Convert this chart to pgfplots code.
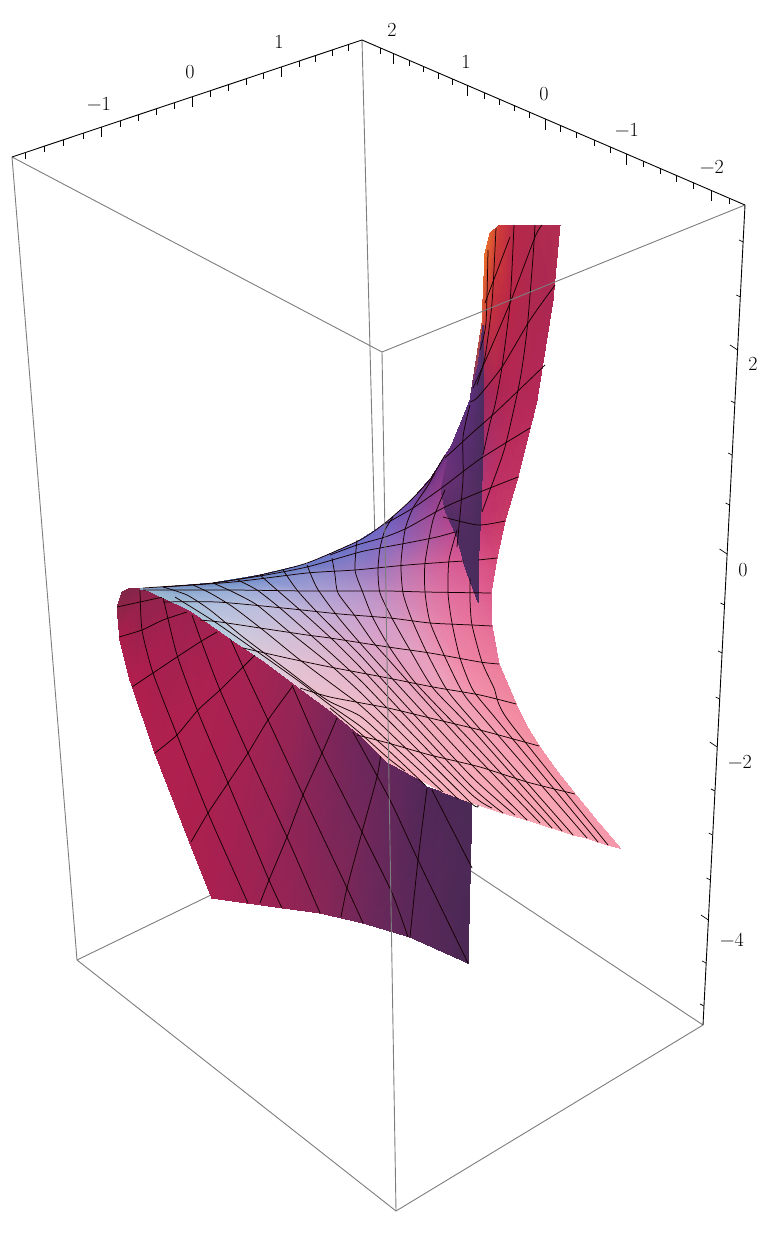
\documentclass[border=0pt]{standalone}
\usepackage{pgfplots}
\pgfplotsset{compat=1.18}
\definecolor{boxgray}{RGB}{125,125,125}
\pgfplotsset{
 box/.style={boxgray,line width=0.9pt,no markers},
 edge/.style={black,line width=0.9pt,no markers},
 tk/.style={black,line width=0.7pt,no markers},
 ml/.style={black!92!red,line width=0.75pt,no markers,smooth,tension=0.4},
 fillsurf/.style={surf,shader=interp,mesh/color input=explicit},
}
\newcommand{\lab}[3]{\node[font=\fontsize{20}{20}\selectfont,inner sep=0pt] at (axis cs:#1,#2) {#3};}
\begin{document}
\begin{tikzpicture}
\useasboundingbox (0,0) rectangle (782pt,1236pt);
\begin{axis}[at={(0,0)},anchor=south west,scale only axis,width=782pt,height=1236pt,
 xmin=0,xmax=782,ymin=0,ymax=1236,y dir=reverse,hide axis,clip=false,unbounded coords=jump]

% back edges
\addplot[box] coordinates {(362,40)(382,812)};
\addplot[box] coordinates {(77,960)(382,812)};
\addplot[box] coordinates {(703,1025)(382,812)};
% outer edges
\addplot[box] coordinates {(12,157)(77,960)};
\addplot[box] coordinates {(77,960)(396,1211)};
\addplot[box] coordinates {(396,1211)(703,1025)};

% lower sheet
\addplot[fillsurf,mesh/cols=2] table[meta=c] {
x y c
122 592 rgb255=130,38,72
117 607 rgb255=140,38,72
130 588 rgb255=128,38,72
120 640 rgb255=172,30,76
147 589 rgb255=140,36,76
130 680 rgb255=176,30,78
190 610 rgb255=158,34,80
155 753 rgb255=176,32,78
233 640 rgb255=168,34,82
190 843 rgb255=172,32,78
267 663 rgb255=160,36,84
212 898 rgb255=168,32,80
300 688 rgb255=146,38,86
247 903 rgb255=160,34,82
333 713 rgb255=124,38,90
283 908 rgb255=150,36,84
373 747 rgb255=104,40,92
320 913 rgb255=136,38,86
407 770 rgb255=92,40,92
363 923 rgb255=112,40,90
427 787 rgb255=80,40,88
410 937 rgb255=92,40,90
472 803 rgb255=74,42,86
468 963 rgb255=74,40,84
};
% lower sheet mesh
\addplot[ml] coordinates {(140,590)(142,630)(153,673)(177,735)(208,813)(248,903)};
\addplot[ml] coordinates {(163,597)(177,655)(198,712)(228,783)(269,880)(282,908)};
\addplot[ml] coordinates {(192,615)(202,643)(220,690)(248,753)(287,837)(320,913)};
\addplot[ml] coordinates {(230,638)(243,667)(268,720)(303,795)(347,888)(363,923)};
\addplot[ml] coordinates {(292,685)(322,753)(362,832)(392,893)(408,937)};
\addplot[ml] coordinates {(353,732)(390,800)(418,860)(468,963)};
\addplot[ml] coordinates {(432,790)(472,868)};
\addplot[ml] coordinates {(117,607)(140,602)(163,597)};
\addplot[ml] coordinates {(119,637)(142,630)(163,620)(187,612)};
\addplot[ml] coordinates {(132,687)(153,673)(177,657)(200,642)(217,632)};
\addplot[ml] coordinates {(155,753)(177,735)(198,710)(220,690)(243,667)(255,655)};
\addplot[ml] coordinates {(191,842)(208,813)(228,783)(248,753)(268,720)(292,687)};
\addplot[ml] coordinates {(260,903)(269,880)(287,837)(303,795)(322,753)(337,718)};
\addplot[ml] coordinates {(341,917)(347,888)(362,832)(377,777)(381,753)};
\addplot[ml] coordinates {(410,937)(418,860)(427,788)};

% main sheet, right part
\addplot[fillsurf,mesh/cols=18] table[meta=c] {
x y c
560 225 rgb255=176,44,80
553 300 rgb255=172,40,82
537 400 rgb255=180,40,88
533 417 rgb255=183,42,90
530 428 rgb255=186,44,92
518 477 rgb255=192,50,98
505 521 rgb255=200,58,104
497 558 rgb255=212,74,120
491 593 rgb255=222,92,140
492 626 rgb255=228,108,150
499 664 rgb255=236,124,156
516 704 rgb255=240,136,160
526 725 rgb255=242,141,162
539 746 rgb255=244,146,164
556 770 rgb255=245,149,167
575 794 rgb255=245,152,170
597 821 rgb255=245,152,171
620 848 rgb255=245,152,172
535 225 rgb255=176,42,78
528 320 rgb255=176,40,78
517 400 rgb255=178,40,86
513 420 rgb255=181,42,89
507 441 rgb255=184,44,92
495 480 rgb255=190,48,100
483 522 rgb255=196,54,110
473 560 rgb255=216,84,140
470 593 rgb255=224,104,152
472 625 rgb255=232,116,156
482 662 rgb255=236,128,160
498 697 rgb255=240,140,165
510 722 rgb255=242,145,167
524 740 rgb255=244,150,170
545 767 rgb255=245,153,171
566 792 rgb255=246,156,172
587 819 rgb255=246,156,173
608 845 rgb255=246,156,174
514 225 rgb255=184,40,72
510 303 rgb255=184,38,72
498 390 rgb255=174,38,84
492 423 rgb255=172,44,97
485 455 rgb255=170,50,110
472 495 rgb255=178,60,125
459 528 rgb255=186,70,140
449 560 rgb255=212,92,150
448 593 rgb255=224,112,160
452 623 rgb255=232,124,164
460 658 rgb255=238,134,168
473 690 rgb255=242,146,172
490 712 rgb255=244,150,173
509 735 rgb255=245,154,174
530 760 rgb255=246,157,175
551 785 rgb255=247,160,176
575 814 rgb255=247,160,176
598 842 rgb255=247,160,176
500 225 rgb255=206,60,56
492 303 rgb255=196,50,62
475 395 rgb255=150,40,96
462 440 rgb255=150,50,125
446 485 rgb255=150,60,135
437 512 rgb255=160,72,148
429 538 rgb255=172,90,160
425 563 rgb255=200,104,164
425 592 rgb255=216,124,172
430 622 rgb255=228,136,176
445 657 rgb255=236,146,178
463 693 rgb255=240,154,180
478 712 rgb255=242,158,180
496 733 rgb255=244,160,180
516 757 rgb255=246,162,180
537 780 rgb255=247,164,180
562 810 rgb255=247,164,180
587 838 rgb255=248,164,178
490 233 rgb255=226,96,46
484 320 rgb255=208,70,60
473 400 rgb255=110,44,110
455 445 rgb255=118,50,130
432 485 rgb255=128,60,140
416 515 rgb255=140,80,160
405 543 rgb255=150,100,180
401 565 rgb255=180,116,178
403 592 rgb255=204,132,184
412 620 rgb255=220,146,186
427 653 rgb255=232,156,188
447 690 rgb255=238,162,186
463 710 rgb255=241,164,184
480 729 rgb255=244,164,182
500 752 rgb255=245,165,182
522 777 rgb255=246,166,180
547 805 rgb255=247,165,178
573 835 rgb255=248,164,176
485 253 rgb255=232,108,44
482 323 rgb255=214,84,56
470 400 rgb255=90,44,110
452 445 rgb255=100,44,120
431 478 rgb255=110,50,130
410 502 rgb255=110,76,168
385 524 rgb255=112,100,196
378 570 rgb255=158,120,190
380 592 rgb255=190,140,196
393 620 rgb255=212,154,196
410 650 rgb255=226,160,196
433 688 rgb255=236,160,186
450 707 rgb255=239,162,184
468 725 rgb255=242,164,182
488 748 rgb255=244,165,181
510 772 rgb255=246,166,180
535 801 rgb255=247,163,178
562 831 rgb255=247,160,176
};
% main sheet, left part
\addplot[fillsurf,mesh/cols=9] table[meta=c] {
x y c
385 524 rgb255=112,100,196
378 570 rgb255=158,120,190
380 592 rgb255=190,140,196
393 620 rgb255=212,154,196
410 650 rgb255=226,160,196
433 688 rgb255=236,160,186
468 725 rgb255=242,164,182
510 772 rgb255=246,166,180
562 831 rgb255=247,160,176
357 542 rgb255=106,112,200
355 570 rgb255=150,128,196
363 593 rgb255=182,150,204
373 618 rgb255=206,158,204
390 648 rgb255=222,160,198
413 680 rgb255=232,160,186
450 720 rgb255=240,164,184
497 771 rgb255=246,168,182
552 828 rgb255=248,164,178
307 564 rgb255=104,122,200
312 574 rgb255=140,144,206
320 592 rgb255=172,160,212
340 616 rgb255=198,170,210
358 642 rgb255=216,170,204
391 678 rgb255=228,170,198
428 717 rgb255=240,170,188
472 765 rgb255=246,170,184
527 820 rgb255=248,168,182
260 575 rgb255=104,132,196
265 582 rgb255=130,150,208
277 590 rgb255=164,170,216
298 608 rgb255=190,180,218
325 633 rgb255=212,180,212
365 672 rgb255=228,176,200
400 711 rgb255=238,176,194
445 759 rgb255=245,174,188
503 813 rgb255=248,170,184
213 583 rgb255=108,136,192
222 587 rgb255=128,158,206
233 592 rgb255=156,176,216
255 604 rgb255=184,190,222
285 630 rgb255=206,192,218
330 665 rgb255=226,186,208
373 705 rgb255=236,184,200
419 751 rgb255=245,180,192
478 805 rgb255=248,176,188
163 587 rgb255=120,144,190
172 590 rgb255=130,160,200
187 596 rgb255=150,176,212
205 607 rgb255=176,192,222
232 627 rgb255=200,202,222
268 655 rgb255=222,198,216
318 693 rgb255=234,192,206
390 743 rgb255=244,184,196
443 792 rgb255=248,178,190
140 589 rgb255=136,160,196
147 590 rgb255=150,180,206
190 610 rgb255=166,196,216
233 640 rgb255=186,206,222
267 663 rgb255=214,208,222
300 688 rgb255=230,200,216
330 710 rgb255=240,192,206
363 737 rgb255=246,186,198
388 762 rgb255=248,180,192
};
% dark fold
\addplot[fillsurf,mesh/cols=2] table[meta=c] {
x y c
483 325 rgb255=90,46,110
483 325 rgb255=84,44,100
478 365 rgb255=92,48,120
483 370 rgb255=78,44,96
470 400 rgb255=92,48,124
483 410 rgb255=76,44,96
460 425 rgb255=96,48,124
483 450 rgb255=76,44,94
451 447 rgb255=100,48,124
482 480 rgb255=76,44,94
445 470 rgb255=108,50,122
481 510 rgb255=74,44,92
441 490 rgb255=104,48,114
480 530 rgb255=74,44,92
445 510 rgb255=88,46,104
479 550 rgb255=74,44,92
457 537 rgb255=80,44,98
478 570 rgb255=74,44,92
465 567 rgb255=76,44,96
478 585 rgb255=74,44,92
478 602 rgb255=74,44,92
478 602 rgb255=74,44,92
};
% main sheet mesh: rows
\addplot[ml] coordinates {(357,735)(388,743)(430,755)(480,767)(527,782)(575,794)};
\addplot[ml] coordinates {(300,688)(330,697)(388,708)(430,718)(480,730)(539,746)};
\addplot[ml] coordinates {(243,648)(287,658)(330,667)(388,678)(433,687)(480,695)(516,704)};
\addplot[ml] coordinates {(200,620)(220,622)(260,628)(307,635)(330,638)(388,647)(430,653)(480,662)(499,664)};
\addplot[ml] coordinates {(163,602)(217,602)(283,608)(340,614)(390,618)(430,623)(472,625)(492,626)};
\addplot[ml] coordinates {(143,590)(233,590)(307,591)(387,591)(425,592)(491,593)};
\addplot[ml] coordinates {(163,587)(233,582)(307,573)(355,570)(407,565)(448,562)(464,561)};
\addplot[ml] coordinates {(478,560)(497,558)};
\addplot[ml] coordinates {(213,583)(260,576)(307,567)(360,552)(380,548)(407,543)(437,537)(455,532)};
\addplot[ml] coordinates {(443,517)(478,525)(505,521)};
\addplot[ml] coordinates {(330,555)(357,545)(385,537)(407,528)(445,507)(480,492)(518,477)};
\addplot[ml] coordinates {(385,524)(413,508)(443,487)(480,459)(530,428)};
\addplot[ml] coordinates {(445,458)(470,435)(498,410)(545,365)};
\addplot[ml] coordinates {(470,402)(478,397)(502,367)(530,320)(555,285)};
\addplot[ml] coordinates {(542,225)(535,237)(510,303)(487,357)(473,388)};
\addplot[ml] coordinates {(510,237)(485,303)};
% silhouette
\addplot[ml] coordinates {(143,588)(213,583)(260,575)(307,563)(360,540)(385,523)(410,501)(431,478)(445,455)};
% main sheet mesh: columns
\addplot[ml] coordinates {(535,225)(533,257)(527,330)(520,380)(505,447)(490,490)(482,512)};
\addplot[ml] coordinates {(470,578)(470,600)(472,625)(482,662)(494,688)(508,720)(608,845)};
\addplot[ml] coordinates {(514,225)(510,303)(502,367)(495,405)(490,423)(483,455)};
\addplot[ml] coordinates {(457,530)(449,560)(448,593)(452,623)(460,658)(473,690)(497,720)(598,842)};
\addplot[ml] coordinates {(496,228)(492,303)(485,357)(477,385)};
\addplot[ml] coordinates {(470,405)(463,437)(463,480)(457,547)};
\addplot[ml] coordinates {(445,490)(433,520)(425,563)(425,592)(430,622)(445,657)(463,693)(485,720)(587,838)};
\addplot[ml] coordinates {(488,250)(486,323)(480,350)};
\addplot[ml] coordinates {(435,473)(427,487)(413,508)(405,530)(401,563)(403,593)(412,620)(427,653)(447,690)(472,720)(573,835)};
\addplot[ml] coordinates {(393,517)(385,530)(380,548)(378,570)(380,593)(393,620)(410,650)(433,688)(470,727)(562,831)};
\addplot[ml] coordinates {(357,540)(355,570)(363,593)(373,618)(390,648)(413,680)(440,709)(470,740)(552,828)};
\addplot[ml] coordinates {(332,558)(335,575)(338,593)(355,616)(373,642)(388,659)(420,695)(470,750)(540,823)};
\addplot[ml] coordinates {(307,565)(317,588)(338,617)(360,643)(388,674)(470,763)(527,820)};
\addplot[ml] coordinates {(283,570)(297,590)(317,612)(360,655)(388,686)(470,775)(515,815)};
\addplot[ml] coordinates {(260,575)(277,590)(300,610)(333,640)(360,667)(388,697)(470,785)(503,813)};
\addplot[ml] coordinates {(238,580)(257,590)(280,608)(313,637)(360,680)(388,709)(470,793)(492,808)};
\addplot[ml] coordinates {(213,583)(233,592)(257,605)(287,630)(327,662)(360,692)(388,720)(470,802)(478,805)};
\addplot[ml] coordinates {(193,585)(210,593)(233,607)(263,630)(300,660)(340,690)(360,705)(388,731)(458,799)};
\addplot[ml] coordinates {(163,587)(187,595)(210,610)(243,637)(287,670)(327,700)(360,716)(388,741)(443,792)};
\addplot[ml] coordinates {(175,597)(215,622)(255,650)(300,682)(330,705)(360,726)(388,750)(425,785)};
\addplot[ml] coordinates {(330,708)(360,733)(388,758)(405,771)};

% front edges
\addplot[box] coordinates {(12,157)(382,352)};
\addplot[box] coordinates {(382,352)(745,205)};
\addplot[box] coordinates {(382,352)(396,1211)};

% ticked edges
\addplot[edge] coordinates {(12,157)(362,40)};
\addplot[edge] coordinates {(362,40)(745,205)};
\addplot[edge] coordinates {(745,205)(703,1025)};
% ticks, left top edge
\addplot[tk] coordinates {(25,152.7)(25,158.7) (0,nan) (44,146.3)(44,152.3) (0,nan) (63,140)(63,146) (0,nan) (83,133.3)(83,139.3) (0,nan) (101.7,127)(101.7,137) (0,nan) (120,120.9)(120,126.9) (0,nan) (138,114.9)(138,120.9) (0,nan) (156,108.9)(156,114.9) (0,nan) (174,102.8)(174,108.8) (0,nan) (192,96.8)(192,106.8) (0,nan) (210,90.8)(210,96.8) (0,nan) (228,84.8)(228,90.8) (0,nan) (246,78.8)(246,84.8) (0,nan) (263,73.1)(263,79.1) (0,nan) (281,67.1)(281,77.1) (0,nan) (299,61)(299,67) (0,nan) (315,55.7)(315,61.7) (0,nan) (332,50)(332,56) (0,nan) (348,44.7)(348,50.7)};
% ticks, right top edge
\addplot[tk] coordinates {(380,47.8)(380,53.8) (0,nan) (393.3,53.5)(393.3,64.5) (0,nan) (409,60.2)(409,66.2) (0,nan) (423.3,66.4)(423.3,72.4) (0,nan) (438.3,72.9)(438.3,78.9) (0,nan) (452.7,79.1)(452.7,85.1) (0,nan) (467.3,85.4)(467.3,96.4) (0,nan) (484,92.6)(484,98.6) (0,nan) (499.3,99.2)(499.3,105.2) (0,nan) (514,105.5)(514,111.5) (0,nan) (529.3,112.1)(529.3,118.1) (0,nan) (545.3,119)(545.3,130) (0,nan) (560.7,125.6)(560.7,131.6) (0,nan) (576.7,132.5)(576.7,138.5) (0,nan) (594,140)(594,146) (0,nan) (610,146.8)(610,152.8) (0,nan) (626.7,154)(626.7,165) (0,nan) (643.3,161.2)(643.3,167.2) (0,nan) (660,168.4)(660,174.4) (0,nan) (676.7,175.6)(676.7,181.6) (0,nan) (693.3,182.7)(693.3,188.7) (0,nan) (711,190.4)(711,201.4) (0,nan) (729,198.1)(729,204.1)};
% ticks, vertical edge
\addplot[tk] coordinates {(743.1,242)(739.1,240) (0,nan) (740.3,297)(736.3,295) (0,nan) (737.6,350)(730.1,345) (0,nan) (734.9,403)(730.9,401) (0,nan) (732.2,455)(728.2,453) (0,nan) (729.6,505)(725.6,503) (0,nan) (727.1,554)(719.6,549) (0,nan) (724.5,605)(720.5,603) (0,nan) (722.1,653)(718.1,651) (0,nan) (719.7,699)(715.7,697) (0,nan) (717.2,747)(709.7,742) (0,nan) (715,791)(711,789) (0,nan) (712.7,835)(708.7,833) (0,nan) (710.4,880)(706.4,878) (0,nan) (708.4,920)(700.9,915) (0,nan) (706.2,963)(702.2,961) (0,nan) (704,1006)(700,1004)};

\lab{99}{104}{−1}
\lab{190}{72}{0}
\lab{279}{42}{1}
\lab{392}{30}{2}
\lab{466}{62}{1}
\lab{544}{94}{0}
\lab{627}{130}{−1}
\lab{712}{167}{−2}
\lab{753}{364}{2}
\lab{743}{570}{0}
\lab{740}{762}{−2}
\lab{732}{940}{−4}
\end{axis}
\end{tikzpicture}
\end{document}
